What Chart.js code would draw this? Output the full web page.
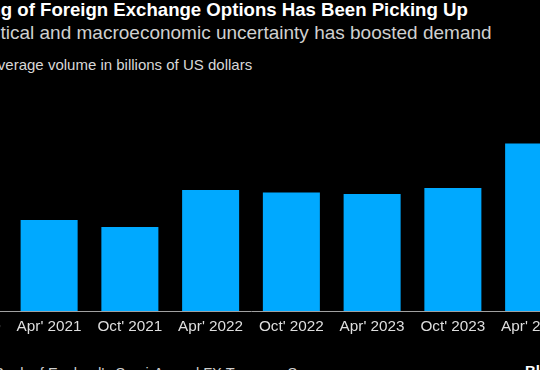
<!DOCTYPE html>
<html>
<head>
<meta charset="utf-8">
<script src="https://cdn.jsdelivr.net/npm/chart.js@4/dist/chart.umd.min.js"></script>
<style>
  html, body { margin: 0; padding: 0; background: #000; width: 540px; height: 370px; overflow: hidden; position: relative; font-family: "Liberation Sans", Arial, sans-serif; }
  .t { position: absolute; white-space: nowrap; }
  #title { top: -1px; left: -55px; font-size: 18.6px; font-weight: bold; color: #fff; }
  #sub { top: 22px; left: -65px; font-size: 19px; color: #d0d0d0; }
  #unit { top: 56px; left: -48px; font-size: 15px; color: #d8d8d8; }
  #src { top: 365px; left: -60px; font-size: 14.6px; color: #cfcfcf; }
  #brand { position: absolute; top: 362px; left: 525px; font-size: 15px; font-weight: bold; color: #fff; white-space: nowrap; }
  #wrap { position: absolute; left: -72px; top: 80px; width: 646px; height: 290px; }
</style>
</head>
<body>
<div class="t" id="title">Trading of Foreign Exchange Options Has Been Picking Up</div>
<div class="t" id="sub">Geopolitical and macroeconomic uncertainty has boosted demand</div>
<div class="t" id="unit">Daily average volume in billions of US dollars</div>
<div class="t" id="src">Source: Bank of England's Semi-Annual FX Turnover Survey</div>
<div id="brand">Bloomberg</div>
<div id="wrap"><canvas id="c"></canvas></div>
<script>
const categories = ["Oct' 2020", "Apr' 2021", "Oct' 2021", "Apr' 2022", "Oct' 2022", "Apr' 2023", "Oct' 2023", "Apr' 2024"];
const volume = [88, 91, 84, 121, 118.5, 117, 123, 167.5];
const yMin = 0;
const yMax = 231;

new Chart(document.getElementById('c'), {
  type: 'bar',
  data: {
    labels: categories,
    datasets: [{
      data: volume,
      backgroundColor: '#00A9FF',
      borderWidth: 0,
      categoryPercentage: 1,
      barPercentage: 0.706
    }]
  },
  options: {
    responsive: true,
    maintainAspectRatio: false,
    animation: false,
    layout: { padding: 0 },
    plugins: { legend: { display: false }, tooltip: { enabled: false }, title: { display: false } },
    scales: {
      x: {
        offset: true,
        grid: { display: false, drawTicks: false },
        border: { display: true, color: '#a0a0a0', width: 1 },
        ticks: { color: '#dedede', font: { family: 'Liberation Sans', size: 15.3 }, padding: 7, maxRotation: 0, autoSkip: false },
        afterFit: s => { s.height = 59; }
      },
      y: {
        display: false,
        min: yMin,
        max: yMax
      }
    }
  }
});
</script>
</body>
</html>
